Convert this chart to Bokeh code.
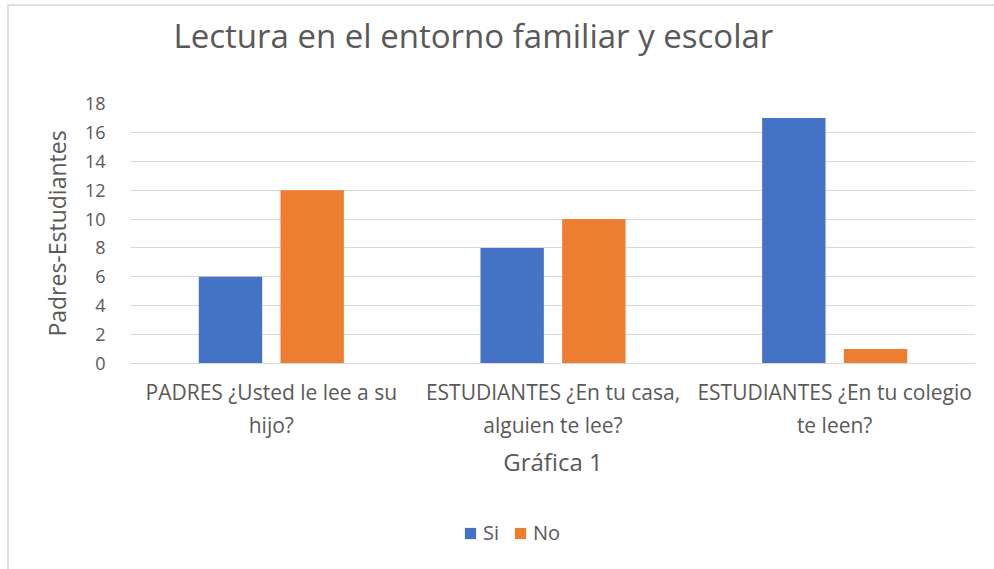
from bokeh.plotting import figure
from bokeh.layouts import column
from bokeh.models import ColumnDataSource, Range1d, Legend, LegendItem, FixedTicker, Label
from bokeh.transform import dodge
from bokeh.embed import file_html
from bokeh.resources import INLINE

title_text = "Lectura en el entorno familiar  y escolar"
categories = [
    "PADRES ¿Usted le lee a su\nhijo?",
    "ESTUDIANTES ¿En tu casa,\nalguien te lee?",
    "ESTUDIANTES ¿En tu colegio\nte leen?",
]
si = [6, 8, 17]
no = [12, 10, 1]
y_ticks = [0, 2, 4, 6, 8, 10, 12, 14, 16, 18]
series_names = ["Si", "No"]

FONT = "Open Sans"
TXT = "#595959"
GRID = "#d9d9d9"
BLUE = "#4472C4"
ORANGE = "#ED7D31"
W = 985
BW = 0.225
OFF = 0.145

src = ColumnDataSource(dict(cat=categories, si=si, no=no))


def bare_fig(h, x_range=None, y_range=None):
    f = figure(width=W, height=h, output_backend="svg", toolbar_location=None,
               x_range=x_range if x_range is not None else Range1d(0, 1),
               y_range=y_range if y_range is not None else Range1d(0, 1),
               x_axis_location=None, y_axis_location=None, min_border=0)
    f.outline_line_color = None
    f.grid.grid_line_color = None
    f.background_fill_color = "white"
    f.border_fill_color = "white"
    return f


# ---- title strip (its frame is aligned with the chart frame by the column) ----
tf = bare_fig(64)
tf.add_layout(Label(x=43, y=35, x_units="screen", y_units="screen", text=title_text,
                    text_font=FONT, text_font_size="33px", text_color=TXT,
                    text_baseline="alphabetic", text_align="left"))

# ---- main chart ----
p = figure(
    x_range=categories, y_range=Range1d(0, 18),
    width=W, height=439, output_backend="svg", toolbar_location=None,
    min_border_left=121, min_border_right=19, min_border_top=33, min_border_bottom=146,
)
p.outline_line_color = None
p.background_fill_color = "white"
p.border_fill_color = "white"

p.vbar(x=dodge("cat", -OFF, range=p.x_range), top="si", width=BW, source=src,
       fill_color=BLUE, line_color=None)
p.vbar(x=dodge("cat", OFF, range=p.x_range), top="no", width=BW, source=src,
       fill_color=ORANGE, line_color=None)

p.xgrid.grid_line_color = None
p.ygrid.grid_line_color = GRID
p.ygrid.grid_line_width = 1
p.yaxis.ticker = FixedTicker(ticks=y_ticks)

p.yaxis.axis_line_color = None
p.yaxis.major_tick_line_color = None
p.yaxis.minor_tick_line_color = None
p.yaxis.major_label_text_font = FONT
p.yaxis.major_label_text_font_size = "18px"
p.yaxis.major_label_text_color = TXT
p.yaxis.major_label_standoff = 19
p.yaxis.axis_label = "Padres-Estudiantes"
p.yaxis.axis_label_text_font = FONT
p.yaxis.axis_label_text_font_size = "23px"
p.yaxis.axis_label_text_font_style = "normal"
p.yaxis.axis_label_text_color = TXT
p.yaxis.axis_label_standoff = 9

p.xaxis.axis_line_color = GRID
p.xaxis.major_tick_line_color = None
p.xaxis.minor_tick_line_color = None
p.xaxis.major_label_text_font = FONT
p.xaxis.major_label_text_font_size = "21px"
p.xaxis.major_label_text_color = TXT
p.xaxis.major_label_standoff = 8
p.xaxis.axis_label = "Gráfica 1"
p.xaxis.axis_label_text_font = FONT
p.xaxis.axis_label_text_font_size = "24px"
p.xaxis.axis_label_text_font_style = "normal"
p.xaxis.axis_label_text_color = TXT
p.xaxis.axis_label_standoff = 3

# ---- legend strip: same bars, range set so that none of them is in view ----
lf = bare_fig(60, x_range=p.x_range, y_range=Range1d(100, 101))
l_si = lf.vbar(x=dodge("cat", -OFF, range=p.x_range), top="si", width=BW, source=src,
               fill_color=BLUE, line_color=None)
l_no = lf.vbar(x=dodge("cat", OFF, range=p.x_range), top="no", width=BW, source=src,
               fill_color=ORANGE, line_color=None)
legend = Legend(
    items=[LegendItem(label=series_names[0], renderers=[l_si]),
           LegendItem(label=series_names[1], renderers=[l_no])],
    orientation="horizontal", location=(333, 23),
    glyph_width=14, glyph_height=14, label_standoff=6, spacing=10,
    label_text_font=FONT, label_text_font_size="20px", label_text_color=TXT,
    label_height=20, padding=0, margin=0,
    border_line_color=None, background_fill_alpha=0,
)
lf.add_layout(legend, "center")

layout = column(tf, p, lf, spacing=0,
                styles={"margin-left": "7px", "margin-top": "4px",
                        "border-left": "2px solid #e0e0e0", "border-top": "2px solid #e0e0e0"})

open("out.html", "w").write(file_html(layout, INLINE))
